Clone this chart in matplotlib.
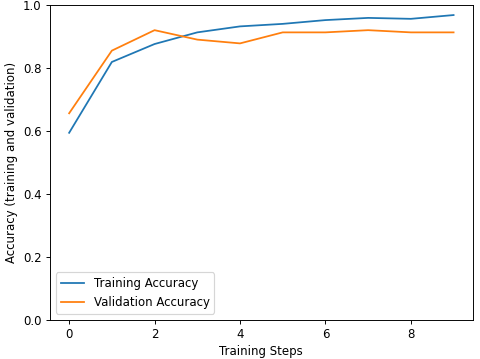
import matplotlib
matplotlib.use('Agg')
import matplotlib.pyplot as plt

# Accuracy per training step
steps = [0, 1, 2, 3, 4, 5, 6, 7, 8, 9]
train_acc = [0.593, 0.818, 0.875, 0.912, 0.931, 0.939, 0.951, 0.958, 0.955, 0.967]
val_acc = [0.655, 0.854, 0.919, 0.889, 0.877, 0.912, 0.912, 0.919, 0.912, 0.912]

DPI = 85
fig = plt.figure(figsize=(480 / DPI, 359 / DPI), dpi=DPI)
ax = fig.add_axes([0.104, 0.110, 0.881, 0.877])

ax.plot(steps, train_acc, label='Training Accuracy')
ax.plot(steps, val_acc, label='Validation Accuracy')
ax.set_ylim(0, 1.0)
ax.set_xlabel('Training Steps')
ax.set_ylabel('Accuracy (training and validation)')
ax.legend(loc='lower left')

fig.savefig('out.png', dpi=DPI)
